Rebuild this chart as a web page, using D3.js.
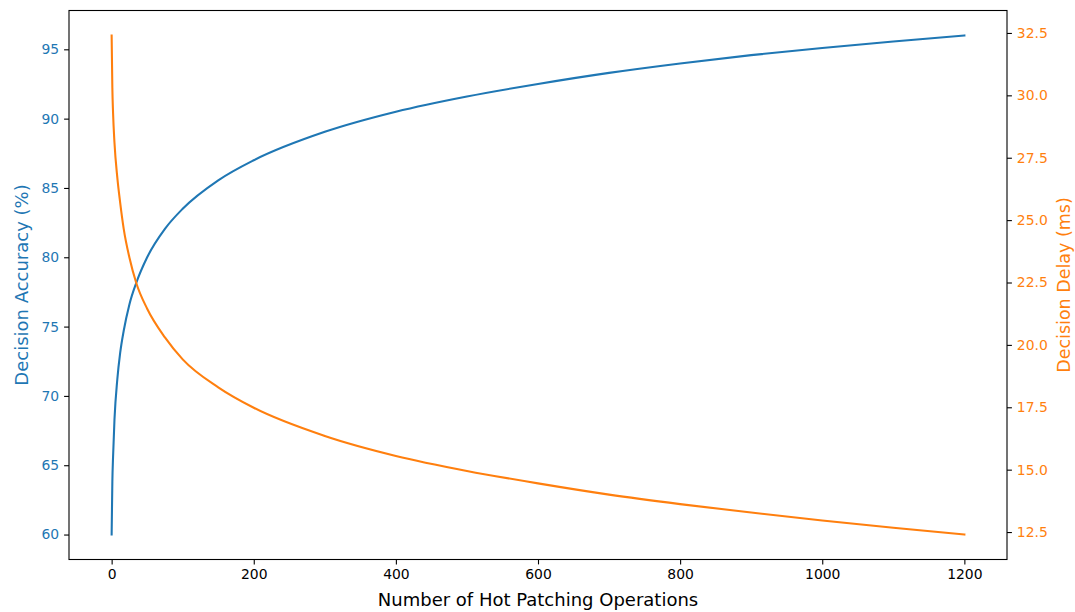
<!DOCTYPE html>
<html>
<head>
<meta charset="utf-8">
<script src="https://cdn.jsdelivr.net/npm/d3@7"></script>
<style>
  html, body { margin: 0; padding: 0; background: #fff; }
  svg { display: block; }
  text { font-family: "DejaVu Sans", sans-serif; }
</style>
</head>
<body>
<svg id="chart" width="1075" height="612"></svg>
<script>
// ---- data ----
const operations = [0, 1, 2, 4, 8, 12, 17, 25, 35, 50, 75, 100, 150, 200, 300, 400, 500, 600, 700, 800, 900, 1000, 1100, 1200];
const accuracy   = [60, 63.8, 65.6, 68.3, 71.2, 73.1, 74.7, 76.6, 78.2, 80.0, 82.05, 83.5, 85.55, 87.0, 89.05, 90.5, 91.6, 92.5, 93.3, 93.98, 94.58, 95.1, 95.57, 96.0];
const delay      = [32.4, 30.3, 29.3, 28.1, 26.7, 25.7, 24.65, 23.5, 22.45, 21.45, 20.3, 19.42, 18.3, 17.48, 16.35, 15.55, 14.95, 14.45, 14.0, 13.62, 13.28, 12.96, 12.67, 12.4];
const xTicks     = [0, 200, 400, 600, 800, 1000, 1200];
const accTicks   = [60, 65, 70, 75, 80, 85, 90, 95];
const delayTicks = [12.5, 15.0, 17.5, 20.0, 22.5, 25.0, 27.5, 30.0, 32.5];
const xLabel = "Number of Hot Patching Operations";
const accLabel = "Decision Accuracy (%)";
const delayLabel = "Decision Delay (ms)";

// ---- layout ----
const blue = "#1f77b4", orange = "#ff7f0e";
const L = 69, R = 1007, T = 10.5, B = 559.5;
const svg = d3.select("#chart");

function padDomain(vals) {
  const lo = d3.min(vals), hi = d3.max(vals), m = (hi - lo) * 0.05;
  return [lo - m, hi + m];
}
const x = d3.scaleLinear().domain(padDomain(operations)).range([L, R]);
const yA = d3.scaleLinear().domain(padDomain(accuracy)).range([B, T]);
const yD = d3.scaleLinear().domain(padDomain(delay)).range([B, T]);

const accData = operations.map((o, i) => [o, accuracy[i]]);
const delayData = operations.map((o, i) => [o, delay[i]]);

const lineA = d3.line().x(d => x(d[0])).y(d => yA(d[1])).curve(d3.curveMonotoneX);
const lineD = d3.line().x(d => x(d[0])).y(d => yD(d[1])).curve(d3.curveMonotoneX);

svg.append("path").datum(accData).attr("d", lineA)
  .attr("fill", "none").attr("stroke", blue).attr("stroke-width", 2.08)
  .attr("stroke-linecap", "square");
svg.append("path").datum(delayData).attr("d", lineD)
  .attr("fill", "none").attr("stroke", orange).attr("stroke-width", 2.08)
  .attr("stroke-linecap", "square");

// axes
function styleAxis(g, color) {
  g.select(".domain").remove();
  g.selectAll(".tick line").attr("stroke", "#000").attr("stroke-width", 1.1);
  g.selectAll(".tick text").attr("fill", color).style("font-size", "13.9px")
    .style("font-family", "DejaVu Sans, sans-serif");
}
const gx = svg.append("g").attr("transform", `translate(0,${B})`)
  .call(d3.axisBottom(x).tickValues(xTicks).tickSize(4.9).tickPadding(4.9).tickFormat(d3.format("d")));
styleAxis(gx, "#000");
gx.selectAll(".tick text").attr("dy", "0.71em");

const gl = svg.append("g").attr("transform", `translate(${L},0)`)
  .call(d3.axisLeft(yA).tickValues(accTicks).tickSize(4.9).tickPadding(4.9).tickFormat(d3.format("d")));
styleAxis(gl, blue);

const gr = svg.append("g").attr("transform", `translate(${R},0)`)
  .call(d3.axisRight(yD).tickValues(delayTicks).tickSize(4.9).tickPadding(4.9).tickFormat(d3.format(".1f")));
styleAxis(gr, orange);

// frame
svg.append("rect").attr("x", L).attr("y", T).attr("width", R - L).attr("height", B - T)
  .attr("fill", "none").attr("stroke", "#000").attr("stroke-width", 1.1);

// labels
svg.append("text").attr("x", (L + R) / 2).attr("y", 606)
  .attr("text-anchor", "middle").style("font-size", "18px").attr("fill", "#000").text(xLabel);
svg.append("text").attr("transform", `translate(28,${(T + B) / 2}) rotate(-90)`)
  .attr("text-anchor", "middle").style("font-size", "18px").attr("fill", blue).text(accLabel);
svg.append("text").attr("transform", `translate(1070,${(T + B) / 2}) rotate(-90)`)
  .attr("text-anchor", "middle").style("font-size", "17.5px").attr("fill", orange).text(delayLabel);
</script>
</body>
</html>
